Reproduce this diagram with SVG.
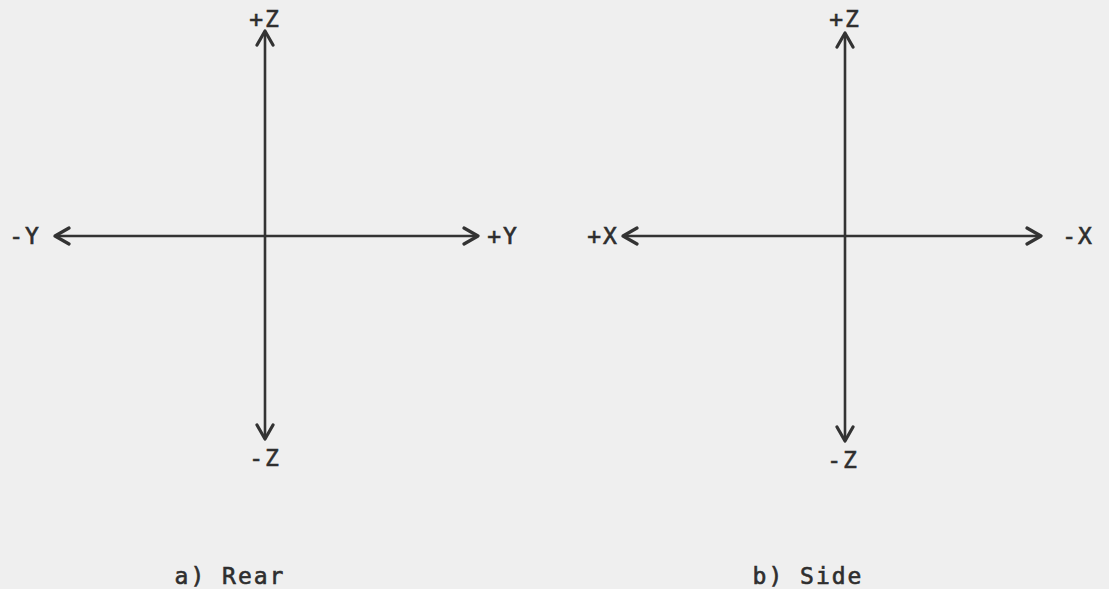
<svg xmlns="http://www.w3.org/2000/svg" width="1109" height="589" viewBox="0 0 1109 589">
<style>
.ax{stroke:#333;stroke-width:2.6;fill:none}
.t{font-family:"DejaVu Sans Mono","Liberation Mono",monospace;font-size:23px;fill:#2e2e2e;stroke:#2e2e2e;stroke-width:0.6;letter-spacing:2px}
</style>
<defs>
<marker id="ah" viewBox="0 0 20 20" refX="17" refY="10" markerWidth="20" markerHeight="20" markerUnits="userSpaceOnUse" orient="auto-start-reverse">
<path d="M3,2 L17,10 L3,18" fill="none" stroke="#333" stroke-width="3.2" stroke-linecap="round" stroke-linejoin="round"/>
</marker>
</defs>
<rect width="1109" height="589" fill="#efefef"/>
<g id="connectors">
<line class="ax" x1="265" y1="31" x2="265" y2="439" marker-start="url(#ah)" marker-end="url(#ah)"/>
<line class="ax" x1="55" y1="236" x2="478" y2="236" marker-start="url(#ah)" marker-end="url(#ah)"/>
<line class="ax" x1="845" y1="33" x2="845" y2="441" marker-start="url(#ah)" marker-end="url(#ah)"/>
<line class="ax" x1="623" y1="236" x2="1041" y2="236" marker-start="url(#ah)" marker-end="url(#ah)"/>
</g>
<g id="rear-labels">
<text class="t" x="265" y="27" text-anchor="middle">+Z</text>
<text class="t" x="265" y="466" text-anchor="middle">-Z</text>
<text class="t" x="25" y="244" text-anchor="middle">-Y</text>
<text class="t" x="503" y="244" text-anchor="middle">+Y</text>
<text class="t" x="230" y="584" text-anchor="middle">a) Rear</text>
</g>
<g id="side-labels">
<text class="t" x="845" y="27" text-anchor="middle">+Z</text>
<text class="t" x="843" y="468" text-anchor="middle">-Z</text>
<text class="t" x="603" y="244" text-anchor="middle">+X</text>
<text class="t" x="1078" y="244" text-anchor="middle">-X</text>
<text class="t" x="808" y="584" text-anchor="middle">b) Side</text>
</g>
</svg>
